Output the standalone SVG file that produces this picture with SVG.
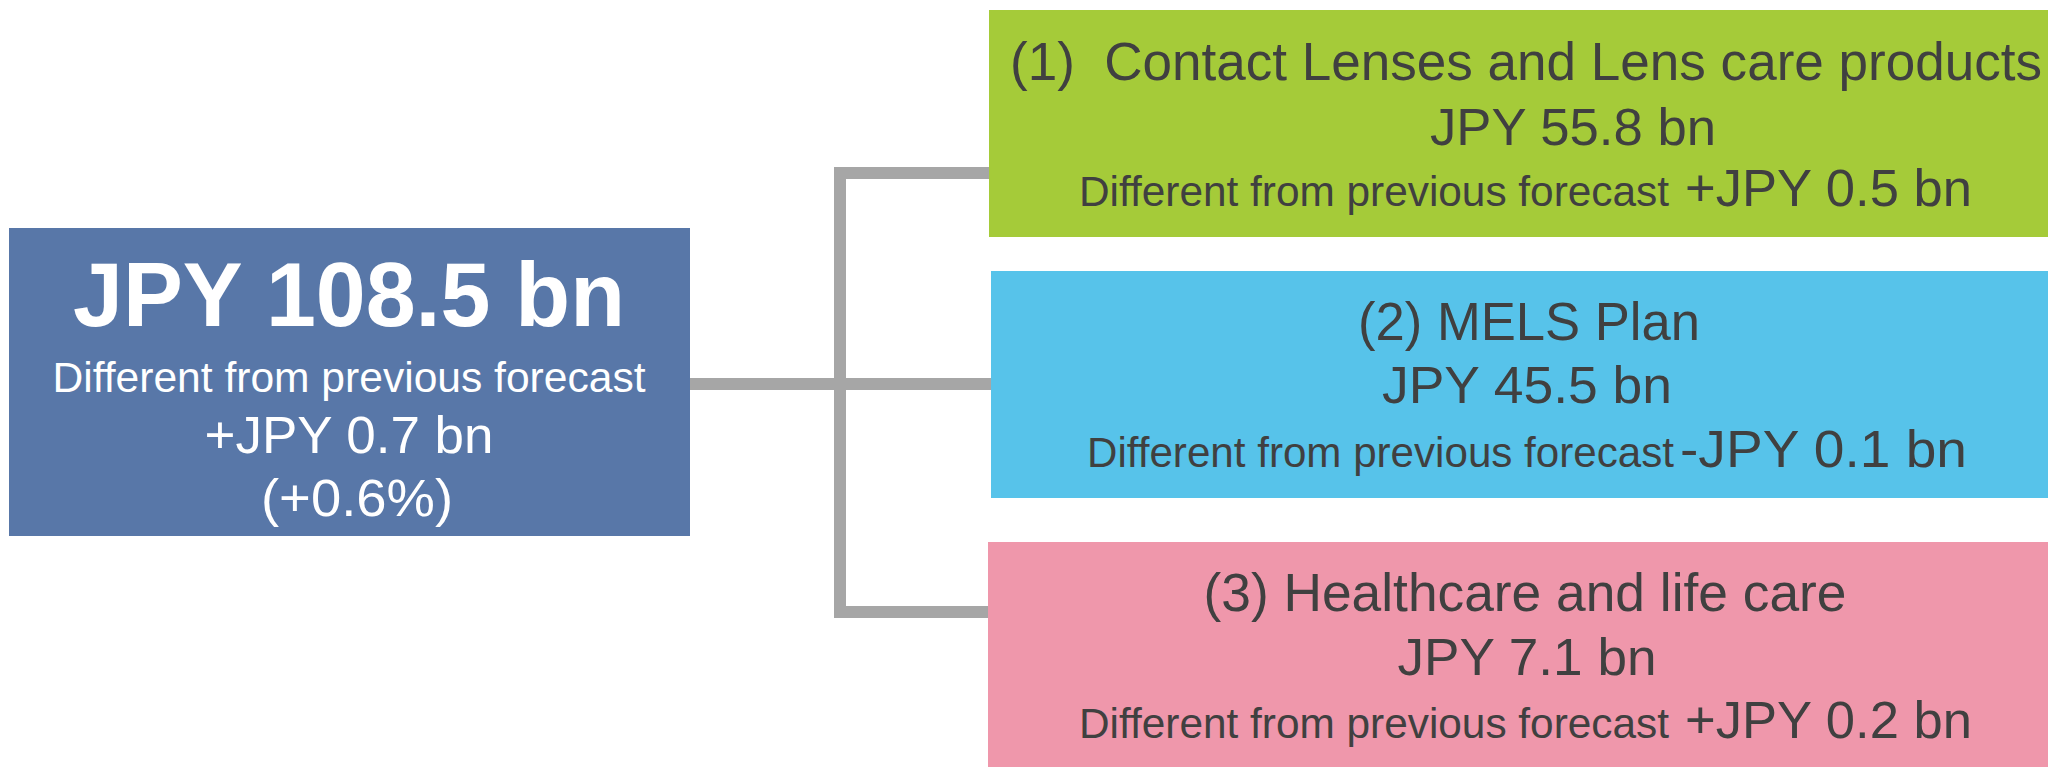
<svg xmlns="http://www.w3.org/2000/svg" width="2048" height="767" viewBox="0 0 2048 767">
  <style>
    text { font-family: "Liberation Sans", Arial, sans-serif; }
    .total { fill: #ffffff; text-anchor: middle; }
    .seg { fill: #404040; }
    .mid { text-anchor: middle; }
    .conn { stroke: #a6a6a6; stroke-width: 12; fill: none; stroke-linecap: butt; }
  </style>
  <rect width="2048" height="767" fill="#ffffff"/>

  <!-- connectors -->
  <g id="connectors">
    <line class="conn" x1="690" y1="384" x2="991" y2="384"/>
    <line class="conn" x1="840" y1="167" x2="840" y2="618"/>
    <line class="conn" x1="834" y1="173" x2="989" y2="173"/>
    <line class="conn" x1="834" y1="612" x2="992" y2="612"/>
  </g>

  <!-- total -->
  <g id="total">
    <rect x="9" y="228" width="681" height="308" fill="#5877a8"/>
    <text class="total" x="349" y="326" font-size="91" font-weight="bold" textLength="552" lengthAdjust="spacingAndGlyphs">JPY 108.5 bn</text>
    <text class="total" x="349" y="392" font-size="42" textLength="593" lengthAdjust="spacingAndGlyphs">Different from previous forecast</text>
    <text class="total" x="349" y="453" font-size="52" textLength="289" lengthAdjust="spacingAndGlyphs">+JPY 0.7 bn</text>
    <text class="total" x="357" y="516" font-size="52" textLength="192" lengthAdjust="spacingAndGlyphs">(+0.6%)</text>
  </g>

  <!-- segment 1 -->
  <g id="seg-contact-lenses">
    <rect x="989" y="10" width="1059" height="227" fill="#a5cb39"/>
    <text class="seg" x="1010" y="80" font-size="53" xml:space="preserve" textLength="1032" lengthAdjust="spacingAndGlyphs">(1)  Contact Lenses and Lens care products</text>
    <text class="seg mid" x="1573" y="145" font-size="52" textLength="286" lengthAdjust="spacingAndGlyphs">JPY 55.8 bn</text>
    <text class="seg" x="1079" y="206" font-size="42" textLength="590" lengthAdjust="spacingAndGlyphs">Different from previous forecast</text>
    <text class="seg" x="1685" y="206" font-size="52" textLength="287" lengthAdjust="spacingAndGlyphs">+JPY 0.5 bn</text>
  </g>

  <!-- segment 2 -->
  <g id="seg-mels-plan">
    <rect x="991" y="271" width="1057" height="227" fill="#57c3ea"/>
    <text class="seg mid" x="1529" y="340" font-size="53" textLength="342" lengthAdjust="spacingAndGlyphs">(2) MELS Plan</text>
    <text class="seg mid" x="1527" y="403" font-size="52" textLength="290" lengthAdjust="spacingAndGlyphs">JPY 45.5 bn</text>
    <text class="seg" x="1087" y="467" font-size="42" textLength="587" lengthAdjust="spacingAndGlyphs">Different from previous forecast</text>
    <text class="seg" x="1680" y="467" font-size="52" textLength="287" lengthAdjust="spacingAndGlyphs">-JPY 0.1 bn</text>
  </g>

  <!-- segment 3 -->
  <g id="seg-healthcare">
    <rect x="988" y="542" width="1060" height="225" fill="#ef97ab"/>
    <text class="seg mid" x="1525" y="611" font-size="53" textLength="643" lengthAdjust="spacingAndGlyphs">(3) Healthcare and life care</text>
    <text class="seg mid" x="1527" y="675" font-size="52" textLength="259" lengthAdjust="spacingAndGlyphs">JPY 7.1 bn</text>
    <text class="seg" x="1079" y="738" font-size="42" textLength="590" lengthAdjust="spacingAndGlyphs">Different from previous forecast</text>
    <text class="seg" x="1685" y="738" font-size="52" textLength="287" lengthAdjust="spacingAndGlyphs">+JPY 0.2 bn</text>
  </g>
</svg>
